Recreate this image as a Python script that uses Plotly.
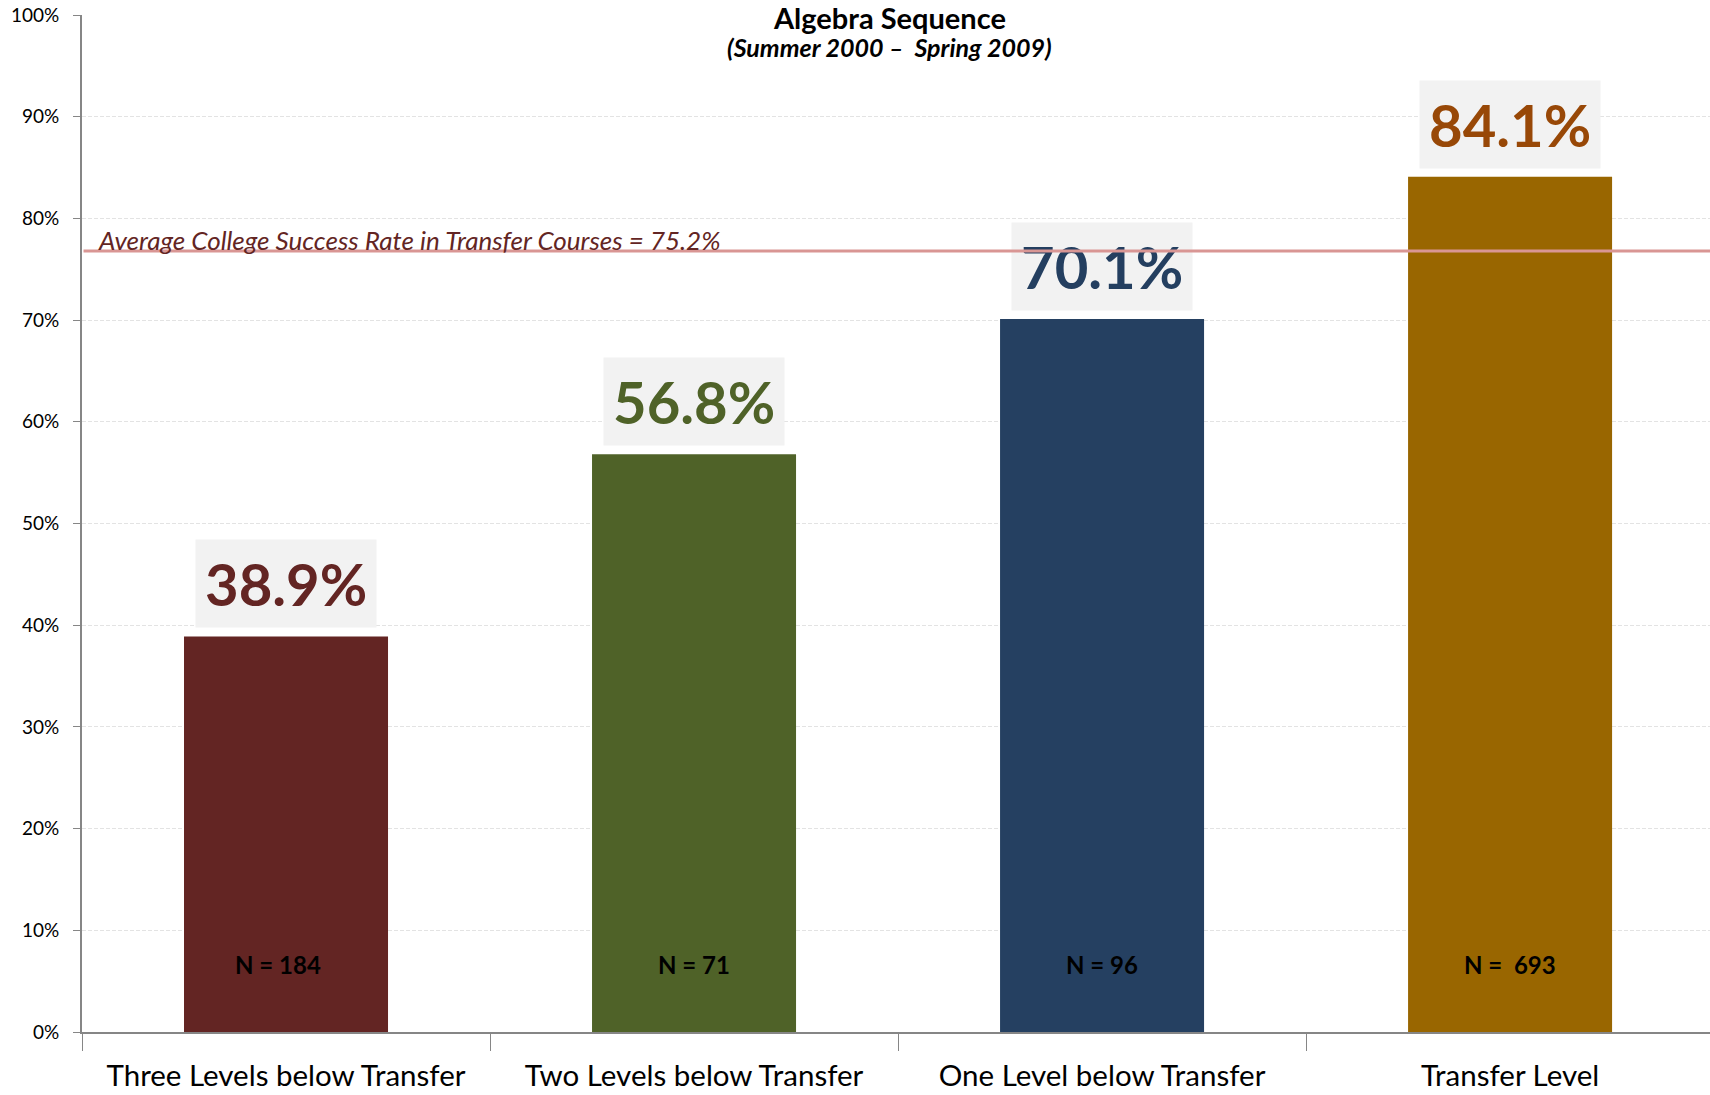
import plotly.graph_objects as go

# ---- data ----
categories = ["Three Levels below Transfer", "Two Levels below Transfer",
              "One Level below Transfer", "Transfer Level"]
success_rates = [38.9, 56.8, 70.1, 84.1]
value_labels = ["38.9%", "56.8%", "70.1%", "84.1%"]
n_labels = ["N = 184", "N = 71", "N = 96", "N =  693"]
bar_colors = ["#632523", "#4F6228", "#254061", "#996600"]
label_colors = ["#632523", "#4F6228", "#243F60", "#984807"]
y_tick_vals = [0, 10, 20, 30, 40, 50, 60, 70, 80, 90, 100]
y_tick_text = ["0%", "10%", "20%", "30%", "40%", "50%", "60%", "70%", "80%", "90%", "100%"]
avg_rate_text = "Average College Success Rate in Transfer Courses = 75.2%"
avg_line_level = 76.8  # where the reference line is drawn

FONT = "Lato"

fig = go.Figure()
fig.add_trace(go.Bar(
    x=categories, y=success_rates, width=0.5,
    marker=dict(color=bar_colors, line=dict(width=0)),
    hoverinfo="skip", showlegend=False,
))

annotations = []
# value labels with light background boxes
for cat, v, lab, col in zip(categories, success_rates, value_labels, label_colors):
    annotations.append(dict(
        x=cat, y=v, xref="x", yref="y", text=f"<b>{lab}</b>", showarrow=False,
        yanchor="bottom", yshift=8, bgcolor="#F2F2F2", borderpad=9,
        font=dict(family=FONT, size=58, color=col),
    ))
# N labels
for i, (cat, n) in enumerate(zip(categories, n_labels)):
    annotations.append(dict(
        x=cat, y=6.6, xref="x", yref="y", text=f"<b>{n}</b>", showarrow=False,
        xshift=-8 if i == 0 else 0,
        font=dict(family=FONT, size=24, color="#000000"),
    ))
# average line drawn as an annotation arrow so it sits on top of the labels
annotations.append(dict(
    x=3.49, y=avg_line_level, xref="x", yref="y",
    ax=-0.5, ay=avg_line_level, axref="x", ayref="y",
    text=" ", showarrow=True, arrowhead=0, arrowwidth=3, arrowcolor="#D99694",
    standoff=0, startstandoff=0, font=dict(size=1),
))
annotations.append(dict(
    x=0.0086, y=77.9, xref="paper", yref="y", text=f"<i>{avg_rate_text}</i>",
    showarrow=False, xanchor="left", yanchor="middle",
    font=dict(family=FONT, size=26, color="#632523"),
))
# titles
annotations.append(dict(
    x=0.496, y=0.998, xref="paper", yref="paper", text="<b>Algebra Sequence</b>",
    showarrow=False, xanchor="center", yanchor="middle",
    font=dict(family=FONT, size=29, color="#000000"),
))
annotations.append(dict(
    x=0.496, y=0.969, xref="paper", yref="paper",
    text="<b><i>(Summer 2000 –  Spring 2009)</i></b>",
    showarrow=False, xanchor="center", yanchor="middle",
    font=dict(family=FONT, size=25, color="#000000"),
))

fig.update_layout(
    width=1710, height=1095,
    margin=dict(l=82, r=0, t=15, b=63),
    paper_bgcolor="white", plot_bgcolor="white",
    annotations=annotations,
    xaxis=dict(
        range=[-0.5, 3.49], showgrid=False, showline=True, linecolor="#868686", linewidth=2,
        ticks="outside", tickson="boundaries", ticklen=17, tickcolor="#868686", tickwidth=1,
        tickfont=dict(family=FONT, size=29.5, color="#000000"), ticklabelstandoff=17,
        automargin=False,
    ),
    yaxis=dict(
        range=[0, 100], tickvals=y_tick_vals, ticktext=y_tick_text,
        showgrid=True, gridcolor="#E3E3E3", gridwidth=1, griddash="4px,2px",
        showline=True, linecolor="#868686", linewidth=2, zeroline=False,
        ticks="outside", ticklen=7, tickcolor="#868686",
        tickfont=dict(family=FONT, size=19, color="#000000"), ticklabelstandoff=10,
        automargin=False,
    ),
    bargap=0.5,
)

fig.write_html("out.html")
